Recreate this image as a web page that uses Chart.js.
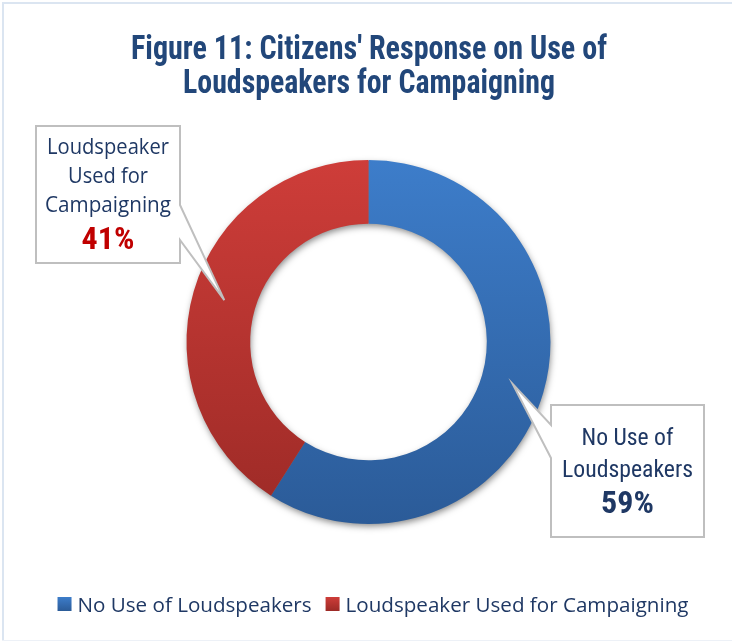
<!DOCTYPE html>
<html>
<head>
<meta charset="utf-8">
<script src="https://cdn.jsdelivr.net/npm/chart.js@4.4.1/dist/chart.umd.min.js"></script>
<style>
  html, body { margin: 0; padding: 0; background: #fff; }
  #wrap { width: 732px; height: 643px; position: relative; }
</style>
</head>
<body>
<div id="wrap"><canvas id="donut" width="732" height="643"></canvas></div>
<script>
// data
const titleLines = ["Figure 11: Citizens' Response on Use of", "Loudspeakers for Campaigning"];
const categories = ["No Use of Loudspeakers", "Loudspeaker Used for Campaigning"];
const shares = [59, 41];
const calloutLines = [["No Use of", "Loudspeakers"], ["Loudspeaker", "Used for", "Campaigning"]];

// styles
const gradTop = ["#3D7DCA", "#CE3D39"];
const gradBottom = ["#2B5B98", "#9C2A26"];
const navy = "#1F3864";
const titleColor = "#22477A";
const narrow = "'Roboto Condensed', Roboto, sans-serif";

// callout boxes, one per slice
const callouts = [
  { index: 0, x: 551, y: 405, w: 153, h: 132, side: "left", notch: [425, 458],
    font: "24px " + narrow, lineY: [40, 72], pctY: 107, pctColor: navy, fit: [92, 131] },
  { index: 1, x: 36, y: 126, w: 144, h: 137, side: "right", notch: [205, 240],
    font: "21px 'Open Sans'", lineY: [28, 57, 86], pctY: 122, pctColor: "#C00000", fit: [122, 80, 126] }
];

function sliceGradient(ctx) {
  const chart = ctx.chart;
  const area = chart.chartArea;
  const i = ctx.dataIndex;
  if (!area) return gradTop[i];
  const g = chart.ctx.createLinearGradient(0, area.top, 0, area.bottom);
  g.addColorStop(0, gradTop[i]);
  g.addColorStop(1, gradBottom[i]);
  return g;
}

// soft shadow under the ring, drawn before the slices
const ringShadow = {
  id: "ringShadow",
  beforeDatasetsDraw(chart) {
    const arc = chart.getDatasetMeta(0).data[0];
    if (!arc) return;
    const { x, y, innerRadius, outerRadius } = arc.getProps(["x", "y", "innerRadius", "outerRadius"], true);
    const c = chart.ctx;
    c.save();
    c.shadowColor = "rgba(0,0,0,0.5)";
    c.shadowBlur = 7;
    c.shadowOffsetX = 1;
    c.shadowOffsetY = 3;
    c.fillStyle = "#777";
    c.beginPath();
    c.arc(x, y, outerRadius - 1, 0, Math.PI * 2);
    c.arc(x, y, innerRadius + 1, 0, Math.PI * 2, true);
    c.fill();
    c.restore();
  }
};

// title, callouts, legend and frame
const decorations = {
  id: "decorations",
  afterDraw(chart) {
    const c = chart.ctx;
    c.save();

    // frame
    c.fillStyle = "#DBE5F1";
    c.fillRect(2, 2, 730, 2);
    c.fillRect(2, 2, 2, 639);
    c.fillStyle = "#EDF1F7";
    c.fillRect(2, 640, 730, 1);

    // title
    c.fillStyle = titleColor;
    c.textAlign = "center";
    c.textBaseline = "alphabetic";
    c.font = "bold 34px " + narrow;
    c.fillText(titleLines[0], 369, 59, 476);
    c.fillText(titleLines[1], 369, 93, 372);

    // callouts
    const meta = chart.getDatasetMeta(0);
    callouts.forEach(b => {
      const arc = meta.data[b.index];
      const p = arc.getProps(["x", "y", "startAngle", "endAngle", "innerRadius", "outerRadius"], true);
      const mid = (p.startAngle + p.endAngle) / 2;
      const r = (p.innerRadius + p.outerRadius) / 2;
      const tx = p.x + Math.cos(mid) * r;
      const ty = p.y + Math.sin(mid) * r;

      c.beginPath();
      if (b.side === "right") {
        c.moveTo(b.x, b.y);
        c.lineTo(b.x + b.w, b.y);
        c.lineTo(b.x + b.w, b.notch[0]);
        c.lineTo(tx, ty);
        c.lineTo(b.x + b.w, b.notch[1]);
        c.lineTo(b.x + b.w, b.y + b.h);
        c.lineTo(b.x, b.y + b.h);
      } else {
        c.moveTo(b.x, b.y);
        c.lineTo(b.x + b.w, b.y);
        c.lineTo(b.x + b.w, b.y + b.h);
        c.lineTo(b.x, b.y + b.h);
        c.lineTo(b.x, b.notch[1]);
        c.lineTo(tx, ty);
        c.lineTo(b.x, b.notch[0]);
      }
      c.closePath();
      c.fillStyle = "#fff";
      c.fill();
      c.strokeStyle = "#BFBFBF";
      c.lineWidth = 2;
      c.lineJoin = "miter";
      c.stroke();

      const cx = b.x + b.w / 2;
      c.textAlign = "center";
      c.fillStyle = navy;
      c.font = b.font;
      calloutLines[b.index].forEach((t, k) => c.fillText(t, cx, b.y + b.lineY[k], b.fit[k]));
      c.font = "bold 32px " + narrow;
      c.fillStyle = b.pctColor;
      c.fillText(shares[b.index] + "%", cx, b.y + b.pctY + 1, 58);
    });

    // legend
    c.font = "20.6px 'Open Sans'";
    c.textAlign = "left";
    const box = 14, gap = 6, itemGap = 14;
    const widths = categories.map(t => c.measureText(t).width);
    const total = widths.reduce((s, w) => s + box + gap + w, 0) + itemGap * (categories.length - 1);
    let lx = 373 - total / 2;
    categories.forEach((t, i) => {
      const g = c.createLinearGradient(0, 597, 0, 611);
      g.addColorStop(0, gradTop[i]);
      g.addColorStop(1, gradBottom[i]);
      c.fillStyle = g;
      c.fillRect(lx, 597, box, box);
      c.fillStyle = navy;
      c.fillText(t, lx + box + gap, 612);
      lx += box + gap + widths[i] + itemGap;
    });

    c.restore();
  }
};

new Chart(document.getElementById("donut"), {
  type: "doughnut",
  data: {
    labels: categories,
    datasets: [{
      data: shares,
      backgroundColor: sliceGradient,
      borderWidth: 0,
      hoverBorderWidth: 0,
      offset: 0,
      hoverOffset: 0
    }]
  },
  options: {
    responsive: false,
    animation: false,
    events: [],
    cutout: "65%",
    layout: { padding: { top: 160, bottom: 119, left: 5, right: 0 } },
    plugins: {
      legend: { display: false },
      title: { display: false },
      tooltip: { enabled: false }
    }
  },
  plugins: [ringShadow, decorations]
});
</script>
</body>
</html>
